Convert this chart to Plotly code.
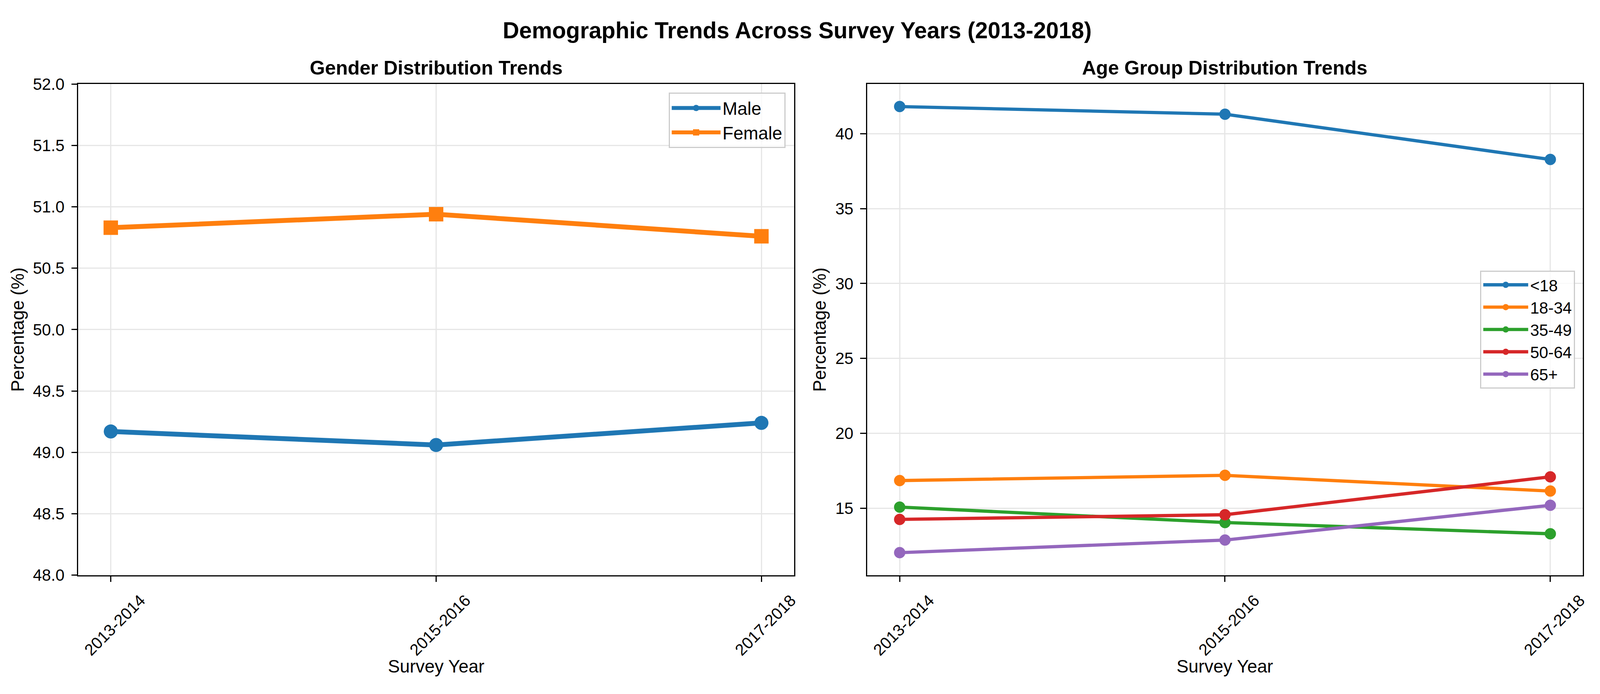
import plotly.graph_objects as go

# ---------------- data ----------------
years = ["2013-2014", "2015-2016", "2017-2018"]

male = [49.17, 49.06, 49.24]
female = [50.83, 50.94, 50.76]

age_groups = ["<18", "18-34", "35-49", "50-64", "65+"]
age_under18 = [41.81, 41.30, 38.28]
age_18_34 = [16.85, 17.20, 16.15]
age_35_49 = [15.08, 14.05, 13.30]
age_50_64 = [14.26, 14.57, 17.10]
age_65_plus = [12.04, 12.88, 15.20]

gender_yticks = [48.0, 48.5, 49.0, 49.5, 50.0, 50.5, 51.0, 51.5, 52.0]
age_yticks = [15, 20, 25, 30, 35, 40]

age_series = [age_under18, age_18_34, age_35_49, age_50_64, age_65_plus]
age_colors = ["#1f77b4", "#ff7f0e", "#2ca02c", "#d62728", "#9467bd"]

# ---------------- geometry (pixels of the 4764x1777 reference) ----------------
W, H = 4764, 1777
L_PAD, R_PAD, GAP = 201, 30, 188      # left of 1st axes, right of 2nd axes, gap between
T_PAD, B_PAD = 197.5, 288             # above / below the axes
PW = (W - L_PAD - R_PAD - GAP) / 2

FONT = "Liberation Sans, Arial, Helvetica, sans-serif"
PT = 300 / 72.0  # px per point

fig = go.Figure()

# Gender subplot
fig.add_trace(go.Scatter(
    x=years, y=male, name="Male", mode="lines+markers",
    line=dict(color="#1f77b4", width=3 * PT),
    marker=dict(symbol="circle", size=36, color="#1f77b4"),
    xaxis="x", yaxis="y", legend="legend"))
fig.add_trace(go.Scatter(
    x=years, y=female, name="Female", mode="lines+markers",
    line=dict(color="#ff7f0e", width=3 * PT),
    marker=dict(symbol="square", size=37, color="#ff7f0e"),
    xaxis="x", yaxis="y", legend="legend"))

# Age subplot
for name, vals, col in zip(age_groups, age_series, age_colors):
    fig.add_trace(go.Scatter(
        x=years, y=vals, name=name, mode="lines+markers",
        line=dict(color=col, width=2 * PT),
        marker=dict(symbol="circle", size=29, color=col),
        xaxis="x2", yaxis="y2", legend="legend2"))

axis_common = dict(
    showline=True, linecolor="black", linewidth=0.8 * PT, mirror=True,
    ticks="outside", ticklen=3.5 * PT, tickwidth=0.8 * PT, tickcolor="black",
    showgrid=True, gridcolor="#e6e6e6", gridwidth=0.8 * PT,
    zeroline=False,
    tickfont=dict(family=FONT, size=10 * PT, color="black"),
)

y_dom = [B_PAD / H, 1 - T_PAD / H]

fig.update_layout(
    width=W, height=H,
    margin=dict(l=0, r=0, t=0, b=0),
    paper_bgcolor="white", plot_bgcolor="white",
    font=dict(family=FONT, color="black"),
    xaxis=dict(domain=[L_PAD / W, (L_PAD + PW) / W], anchor="y", type="category",
               range=[-0.1, 2.1], tickangle=-45, ticklabelshift=76,
               ticklabelstandoff=6, **axis_common),
    yaxis=dict(domain=y_dom, anchor="x", range=[48, 52],
               tickmode="array", tickvals=gender_yticks,
               ticktext=[f"{v:.1f}" for v in gender_yticks],
               ticklabelstandoff=9, **axis_common),
    xaxis2=dict(domain=[(L_PAD + PW + GAP) / W, (W - R_PAD) / W], anchor="y2",
                type="category", range=[-0.1, 2.1], tickangle=-45,
                ticklabelshift=76, ticklabelstandoff=6, **axis_common),
    yaxis2=dict(domain=y_dom, anchor="x2", range=[10.54, 43.31],
                tickmode="array", tickvals=age_yticks,
                ticktext=[str(v) for v in age_yticks],
                ticklabelstandoff=9, **axis_common),
    legend=dict(x=(L_PAD + PW - 22) / W, xanchor="right", y=1 - 220 / H, yanchor="top",
                font=dict(family=FONT, size=11 * PT, color="black"),
                bgcolor="rgba(255,255,255,0.8)", bordercolor="#cccccc",
                borderwidth=3, itemwidth=125),
    legend2=dict(x=(W - R_PAD - 20) / W, xanchor="right", y=1 - 843 / H,
                 yanchor="middle",
                 font=dict(family=FONT, size=10 * PT, color="black"),
                 bgcolor="rgba(255,255,255,0.8)", bordercolor="#cccccc",
                 borderwidth=3, itemwidth=115),
    showlegend=True,
)

annotations = [
    dict(text="<b>Demographic Trends Across Survey Years (2013-2018)</b>",
         xref="paper", yref="paper", x=0.5, y=1, yshift=-54,
         font=dict(size=14 * PT)),
    dict(text="<b>Gender Distribution Trends</b>",
         xref="x domain", yref="y domain", x=0.5, y=1, yshift=T_PAD - 156,
         font=dict(size=12 * PT)),
    dict(text="<b>Age Group Distribution Trends</b>",
         xref="x2 domain", yref="y2 domain", x=0.5, y=1, yshift=T_PAD - 156,
         font=dict(size=12 * PT)),
    dict(text="Survey Year", xref="x domain", yref="y domain", x=0.5, y=0,
         yshift=-(1723 - (H - B_PAD)), font=dict(size=11 * PT)),
    dict(text="Survey Year", xref="x2 domain", yref="y2 domain", x=0.5, y=0,
         yshift=-(1723 - (H - B_PAD)), font=dict(size=11 * PT)),
    dict(text="Percentage (%)", xref="x domain", yref="y domain", x=0, y=0.5,
         xshift=-(L_PAD - 47), textangle=-90, font=dict(size=11 * PT)),
    dict(text="Percentage (%)", xref="x2 domain", yref="y2 domain", x=0, y=0.5,
         xshift=-(L_PAD + PW + GAP - 2441), textangle=-90, font=dict(size=11 * PT)),
]
for a in annotations:
    a.update(showarrow=False, xanchor="center", yanchor="middle")
    a["font"].update(family=FONT, color="black")
fig.update_layout(annotations=annotations)

# Fit the figure to the real browser viewport while keeping pixel paddings.
fit_js = """
var gd = document.getElementById('{plot_id}');
document.documentElement.style.margin = '0';
document.body.style.margin = '0';
document.documentElement.style.overflow = 'hidden';
document.body.style.overflow = 'hidden';
var vw = document.documentElement.clientWidth || window.innerWidth;
var vh = document.documentElement.clientHeight || window.innerHeight;
var W0 = %d, H0 = %d, L = %f, R = %f, G = %f, T = %f, B = %f;
if (vw > 0 && vh > 0 && (Math.abs(vw - W0) > 1 || Math.abs(vh - H0) > 1)) {
  var pw = (vw - L - R - G) / 2;
  var ph = vh - T - B;
  var upd = {
    width: vw, height: vh,
    'xaxis.domain': [L / vw, (L + pw) / vw],
    'xaxis2.domain': [(L + pw + G) / vw, (vw - R) / vw],
    'yaxis.domain': [B / vh, 1 - T / vh],
    'yaxis2.domain': [B / vh, 1 - T / vh],
    'legend.x': (L + pw - 22) / vw,
    'legend.y': 1 - (T + 22.5) / vh,
    'legend2.x': (vw - R - 20) / vw,
    'legend2.y': 1 - (T + ph * 0.4998) / vh
  };
  gd.style.width = vw + 'px';
  gd.style.height = vh + 'px';
  Plotly.relayout(gd, upd);
}
""" % (W, H, L_PAD, R_PAD, GAP, T_PAD, B_PAD)

fig.write_html("out.html", post_script=fit_js,
               config={"displayModeBar": False, "responsive": False})
